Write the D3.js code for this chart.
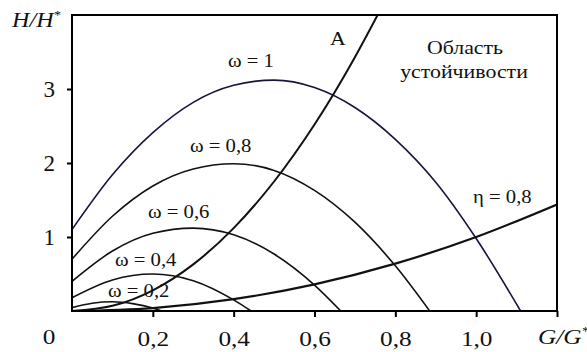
<!DOCTYPE html>
<html>
<head>
<meta charset="utf-8">
<script src="https://cdn.jsdelivr.net/npm/d3@7"></script>
<style>
  html, body { margin: 0; padding: 0; background: #fff; }
  svg { display: block; }
</style>
</head>
<body>
<svg id="chart" width="587" height="352"></svg>
<script>
// Head H/H* versus flow G/G*, one curve per relative speed ω
const omega02 = [[0, 0.045], [0.05, 0.105], [0.1, 0.125], [0.15, 0.10], [0.2, 0.04], [0.222, 0]];
const omega04 = [[0, 0.18], [0.1, 0.42], [0.2, 0.50], [0.3, 0.41], [0.4, 0.15], [0.443, 0]];
const omega06 = [[0, 0.40], [0.1, 0.81], [0.2, 1.05], [0.3, 1.12], [0.4, 1.03], [0.5, 0.77], [0.6, 0.35], [0.665, 0]];
const omega08 = [[0, 0.70], [0.1, 1.28], [0.2, 1.69], [0.3, 1.92], [0.4, 1.99], [0.5, 1.90], [0.6, 1.63], [0.7, 1.20], [0.8, 0.61], [0.885, 0]];
const omega10 = [[0, 1.10], [0.1, 1.84], [0.2, 2.41], [0.3, 2.82], [0.4, 3.05], [0.5, 3.12], [0.6, 3.02], [0.7, 2.75], [0.8, 2.32], [0.9, 1.74], [1.0, 0.98], [1.11, 0]];
// Boundary A and the η = 0,8 line
const curveA = [[0, 0], [0.1, 0.07], [0.2, 0.28], [0.3, 0.63], [0.4, 1.12], [0.5, 1.75], [0.6, 2.52], [0.7, 3.43], [0.76, 4.04]];
const eta08 = [[0, 0], [0.2, 0.04], [0.4, 0.16], [0.6, 0.36], [0.8, 0.64], [1.0, 1.0], [1.2, 1.44]];

const xTicks = [0.2, 0.4, 0.6, 0.8, 1.0, 1.2];
const xTickLabels = ["0,2", "0,4", "0,6", "0,8", "1,0", ""];
const yTicks = [1, 2, 3];
const yTickLabels = ["1", "2", "3"];

const FONT = '"Liberation Serif", "Times New Roman", serif';
const svg = d3.select("#chart");
const plotLeft = 72, plotRight = 557, plotTop = 15, plotBottom = 311;
const stretch = 1.15;

const x = d3.scaleLinear().domain([0, 1.2]).range([plotLeft, plotRight]);
const y = d3.scaleLinear().domain([0, 4]).range([plotBottom, plotTop]);

svg.append("clipPath").attr("id", "plot")
  .append("rect").attr("x", plotLeft).attr("y", plotTop)
  .attr("width", plotRight - plotLeft).attr("height", plotBottom - plotTop);

const line = d3.line().x(d => x(d[0])).y(d => y(d[1])).curve(d3.curveMonotoneX);

const curves = [
  { data: omega02, color: "#111", width: 1.6 },
  { data: omega04, color: "#111", width: 1.6 },
  { data: omega06, color: "#111", width: 1.6 },
  { data: omega08, color: "#111", width: 1.6 },
  { data: omega10, color: "#15153f", width: 1.6 },
  { data: curveA, color: "#111", width: 2.0 },
  { data: eta08, color: "#111", width: 2.2 }
];

const g = svg.append("g").attr("clip-path", "url(#plot)");
g.selectAll("path").data(curves).join("path")
  .attr("d", d => line(d.data))
  .attr("fill", "none")
  .attr("stroke", d => d.color)
  .attr("stroke-width", d => d.width);

// Frame
svg.append("rect").attr("x", plotLeft).attr("y", plotTop)
  .attr("width", plotRight - plotLeft).attr("height", plotBottom - plotTop)
  .attr("fill", "none").attr("stroke", "#000").attr("stroke-width", 2);

// Axes
const xAxis = svg.append("g").attr("transform", `translate(0,${plotBottom})`)
  .call(d3.axisBottom(x).tickValues(xTicks).tickSize(6).tickSizeOuter(0).tickPadding(13)
    .tickFormat((d, i) => xTickLabels[i]));
const yAxis = svg.append("g").attr("transform", `translate(${plotLeft},0)`)
  .call(d3.axisLeft(y).tickValues(yTicks).tickSize(5).tickSizeOuter(0).tickPadding(12)
    .tickFormat((d, i) => yTickLabels[i]));

[xAxis, yAxis].forEach(a => {
  a.attr("font-family", null);
  a.select(".domain").remove();
  a.selectAll(".tick line").attr("stroke", "#000").attr("stroke-width", 2);
  a.selectAll(".tick text").style("font-family", FONT).attr("fill", "#111");
});
xAxis.selectAll(".tick text").attr("font-size", 22).attr("transform", `scale(${stretch},1)`);
yAxis.selectAll(".tick text").attr("font-size", 23);

// Text helper with a slight horizontal stretch
function label(txt, px, py, size, anchor, italic) {
  const t = svg.append("text")
    .attr("transform", `translate(${px},${py}) scale(${stretch},1)`)
    .style("font-family", FONT)
    .attr("font-size", size)
    .attr("fill", "#111")
    .attr("text-anchor", anchor || "start");
  if (italic) t.attr("font-style", "italic");
  return t.text(txt);
}

label("0", 49, 344, 22, "middle");

const hLab = label("", 12, 27, 21, "start", true);
hLab.append("tspan").text("H/H");
hLab.append("tspan").attr("font-size", 12).attr("dy", -8).text("*");

const gLab = label("", 538, 344, 22, "start", true);
gLab.append("tspan").text("G/G");
gLab.append("tspan").attr("font-size", 12).attr("dy", -9).text("*");

label("ω = 1", 228, 67, 18);
label("ω = 0,8", 190, 152, 18);
label("ω = 0,6", 148, 218, 18);
label("ω = 0,4", 115, 266, 18);
label("ω = 0,2", 108, 297, 18);
label("A", 330, 45, 19);
label("Область", 465, 54, 19, "middle");
label("устойчивости", 464, 78, 19, "middle");
label("η = 0,8", 473, 203, 18);
</script>
</body>
</html>
